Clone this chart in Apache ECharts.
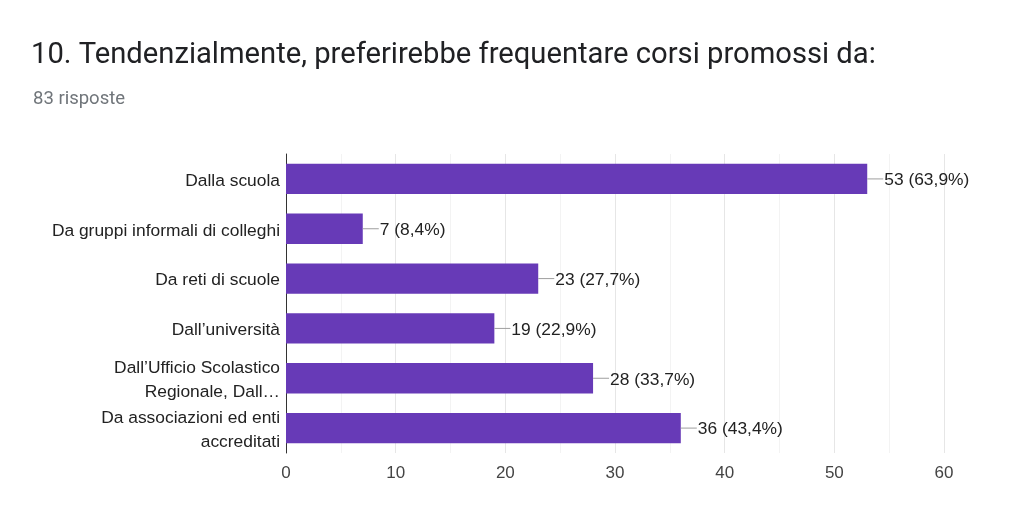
<!DOCTYPE html>
<html><head><meta charset="utf-8">
<script src="https://cdn.jsdelivr.net/npm/echarts@6/dist/echarts.min.js"></script>
<style>html,body{margin:0;padding:0;background:#fff}#c{width:1024px;height:519px}</style>
</head><body><div id="c"></div>
<script>
const categories = [
  "Dalla scuola",
  "Da gruppi informali di colleghi",
  "Da reti di scuole",
  "Dall\u2019universit\u00e0",
  "Dall\u2019Ufficio Scolastico\nRegionale, Dall\u2026",
  "Da associazioni ed enti\naccreditati"
];
const counts = [53, 7, 23, 19, 28, 36];
const percents = ["63,9", "8,4", "27,7", "22,9", "33,7", "43,4"];
const xTicks = [0, 10, 20, 30, 40, 50, 60];

const LF = "'Liberation Sans', Arial, sans-serif";
const chart = echarts.init(document.getElementById('c'), null, {renderer: 'canvas'});
chart.setOption({
  animation: false,
  title: [
    {text: "10. Tendenzialmente, preferirebbe frequentare corsi promossi da:", left: 26, top: 36,
     textStyle: {fontFamily: 'Roboto', fontSize: 29.2, fontWeight: 'normal', color: '#202124'}},
    {text: "83 risposte", left: 28, top: 85,
     textStyle: {fontFamily: 'Roboto', fontSize: 18.5, fontWeight: 'normal', color: '#70757a'}}
  ],
  grid: {left: 286, right: 80, top: 154, bottom: 66, containLabel: false},
  xAxis: {
    type: 'value', min: xTicks[0], max: xTicks[xTicks.length - 1], interval: 10,
    axisLine: {show: false}, axisTick: {show: false},
    axisLabel: {fontFamily: LF, fontSize: 17, color: '#444', margin: 12},
    splitLine: {lineStyle: {color: '#e6e6e6'}},
    minorTick: {show: false, splitNumber: 2},
    minorSplitLine: {show: true, lineStyle: {color: '#f3f3f3'}}
  },
  yAxis: {
    type: 'category', data: categories, inverse: true,
    axisLine: {show: true, lineStyle: {color: '#333', width: 1}},
    axisTick: {show: false},
    axisLabel: {
      margin: 6, align: 'right',
      formatter: v => v.split('\n').map(s => '{a|' + s + '}').join('\n'),
      rich: {a: {fontFamily: LF, fontSize: 17.4, color: '#222', lineHeight: 24, padding: [4, 0, 0, 0], align: 'right'}}
    }
  },
  series: [{
    type: 'bar', data: counts, barWidth: '61%',
    itemStyle: {color: '#673ab7'},
    label: {
      show: true, position: 'right', distance: 0,
      formatter: p => '{l|}{t|' + counts[p.dataIndex] + ' (' + percents[p.dataIndex] + '%)}',
      rich: {
        l: {width: 16, height: 1, backgroundColor: '#9e9e9e'},
        t: {fontFamily: LF, fontSize: 17.4, color: '#222', padding: [3, 0, 0, 1]}
      }
    }
  }]
});
</script></body></html>
